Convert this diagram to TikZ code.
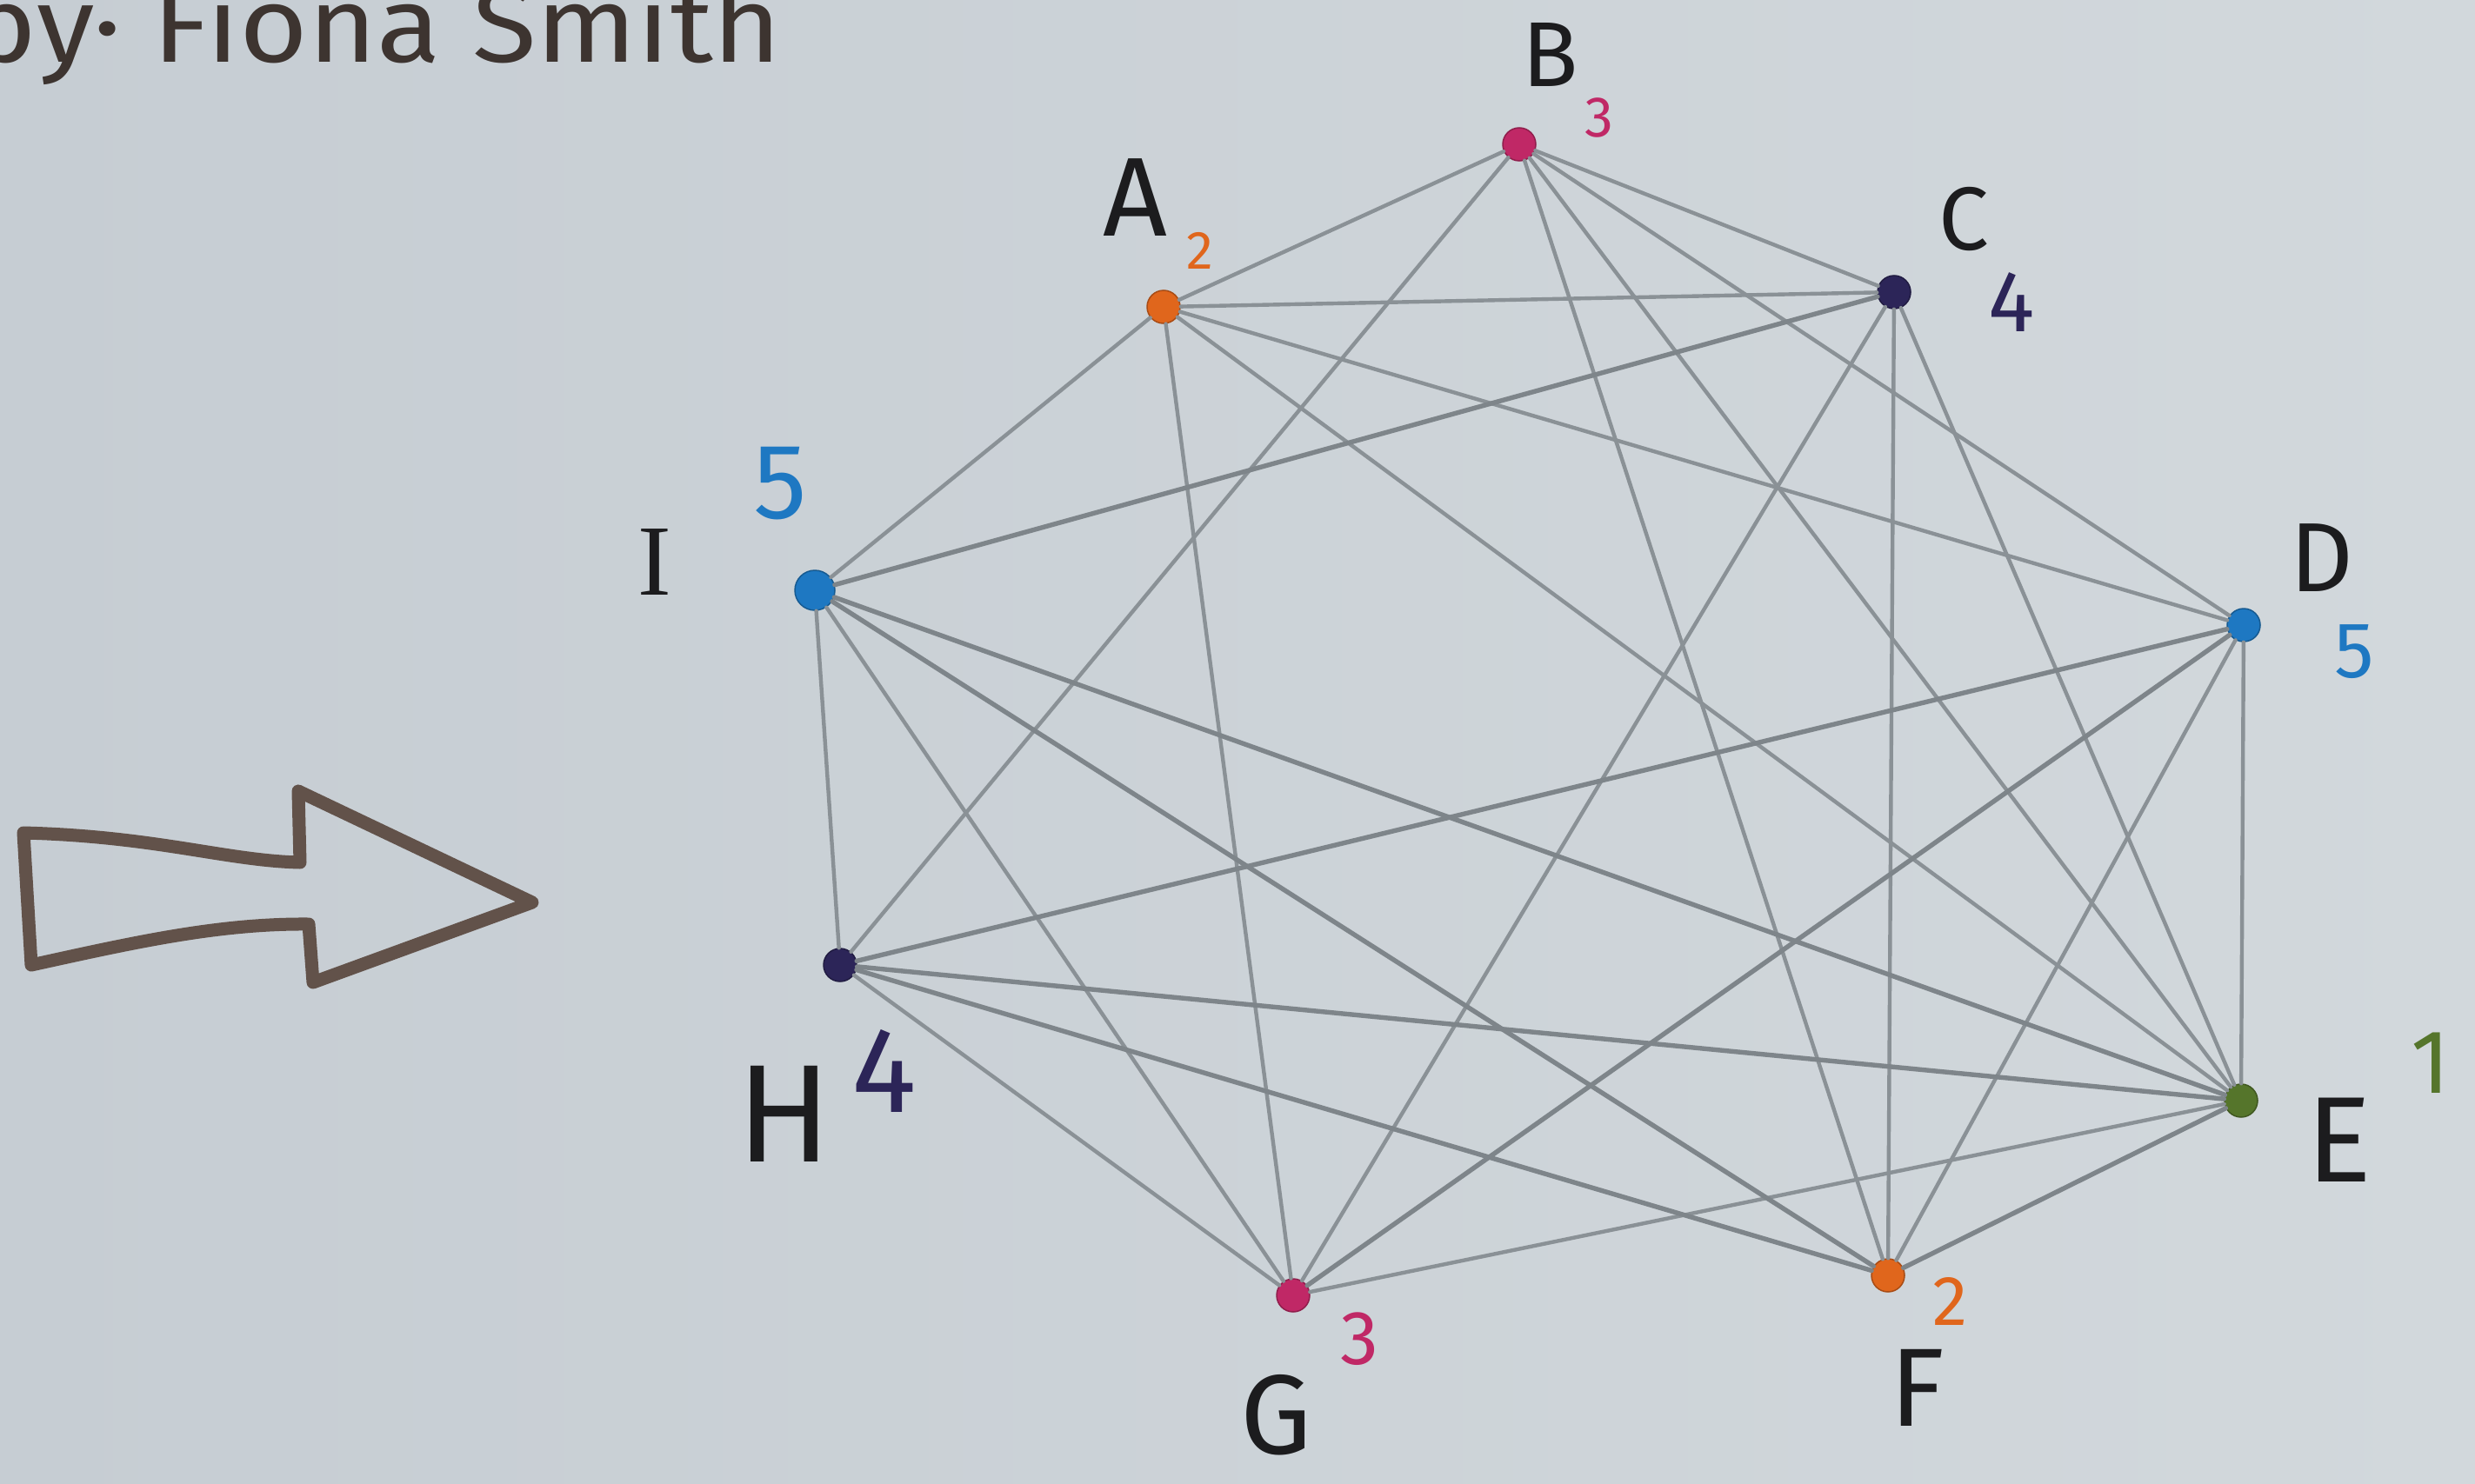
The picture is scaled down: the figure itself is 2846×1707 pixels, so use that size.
\documentclass[tikz,border=0pt]{standalone}
\usepackage{fontspec}
\setmainfont{Fira Sans}
\newfontfamily\serifI{Liberation Serif}
\newcommand{\labfs}[1]{\fontsize{#1}{#1}\selectfont}
\definecolor{paperL}{HTML}{C6CDD3}
\definecolor{paperR}{HTML}{D2D8DC}
\definecolor{edgegrey}{HTML}{8A9196}
\definecolor{edgedark}{HTML}{7E858A}
\definecolor{cgreen}{HTML}{55752B}
\definecolor{corange}{HTML}{E0661C}
\definecolor{cmag}{HTML}{C02866}
\definecolor{cindigo}{HTML}{2C2558}
\definecolor{cblue}{HTML}{1E78C2}
\definecolor{ink}{HTML}{1C1C1E}
\definecolor{brownink}{HTML}{62524A}
\definecolor{titleink}{HTML}{3D3430}
\begin{document}
\begin{tikzpicture}[x=1pt,y=-1pt,
  dot/.style={circle,inner sep=0pt,minimum size=38pt,fill=#1,draw=#1!75!black,line width=1.5pt},
  edge/.style={draw=edgegrey,line width=4.4pt,line cap=round},
  heavy/.style={draw=edgedark,line width=5.4pt,line cap=round},
  lbl/.style={text=ink,inner sep=0pt},
  num/.style={text=#1,inner sep=0pt}]
\shade[left color=paperL,right color=paperR] (0,0) rectangle (2846,1707);
\useasboundingbox (0,0) rectangle (2846,1707);

% title (cut off at the top-left of the sheet)
\node[anchor=base west,inner sep=0pt,text=titleink,font=\labfs{123}] (title) at (-38,72) {\scalebox{1.1}[1]{by\textperiodcentered\ Fiona Smith}};

% hollow arrow
\draw[brownink,line width=15pt,line join=round]
  (27,958) .. controls (180,962) and (260,990) .. (345,992) -- (343,910) -- (612,1038)
  -- (360,1130) -- (355,1063) .. controls (250,1062) and (150,1085) .. (36,1110) -- cycle;

% vertices
\node[dot=corange] (A) at (1338,353) {};
\node[dot=cmag] (B) at (1747,166) {};
\node[dot=cindigo] (C) at (2178,336) {};
\node[dot=cblue] (D) at (2580,719) {};
\node[dot=cgreen] (E) at (2577,1266) {};
\node[dot=corange] (F) at (2171,1467) {};
\node[dot=cmag] (G) at (1487,1490) {};
\node[dot=cindigo] (H) at (966,1110) {};
\node[dot=cblue,minimum size=46pt] (I) at (937,679) {};

% edges
\foreach \a/\b in {A/B,A/C,A/D,A/E,A/G,A/I,B/C,B/D,B/E,B/F,B/H,C/E,C/F,C/G,D/E,D/F,E/G,G/H,G/I,H/I}
  \draw[edge] (\a) -- (\b);
\foreach \a/\b in {C/I,D/G,D/H,E/F,E/H,E/I,F/H,F/I}
  \draw[heavy] (\a) -- (\b);

% letter labels
\node[lbl,font=\labfs{129}] (lA) at (1305,227) {A};
\node[lbl,font=\labfs{106}] (lB) at (1783,63) {B};
\node[lbl,font=\labfs{103}] (lC) at (2258,252) {C};
\node[lbl,font=\labfs{113}] (lD) at (2670,642) {D};
\node[lbl,font=\labfs{140}] (lE) at (2690,1311) {E};
\node[lbl,font=\labfs{128}] (lF) at (2205,1596) {F};
\node[lbl,font=\labfs{130}] (lG) at (1467,1628) {G};
\node[lbl,font=\labfs{160}] (lH) at (902,1281) {H};
\node[lbl,font=\serifI\labfs{116}] (lI) at (753,647) {I};

% colour numbers
\node[num=corange,font=\labfs{62}] (nA) at (1380,288) {2};
\node[num=cmag,font=\labfs{66}] (nB) at (1839,135) {3};
\node[num=cindigo,font=\labfs{100}] (nC) at (2313,348) {4};
\node[num=cblue,font=\labfs{91}] (nD) at (2707,750) {5};
\node[num=cgreen,font=\labfs{104}] (nE) at (2795,1223) {1};
\node[num=corange,font=\labfs{81}] (nF) at (2243,1497) {2};
\node[num=cmag,font=\labfs{88}] (nG) at (1563,1540) {3};
\node[num=cindigo,font=\labfs{140}] (nH) at (1017,1232) {4};
\node[num=cblue,font=\labfs{123}] (nI) at (897,556) {5};
\end{tikzpicture}
\end{document}
